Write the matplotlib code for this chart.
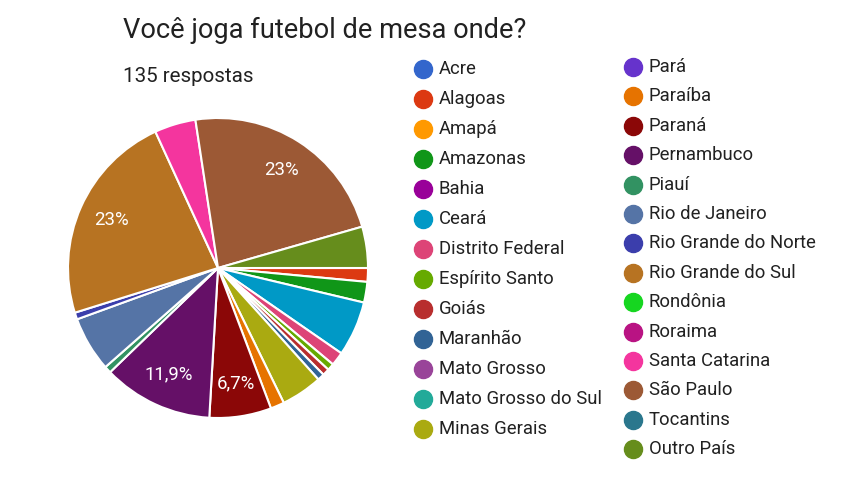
import matplotlib
matplotlib.use("Agg")
import matplotlib.pyplot as plt
import numpy as np

plt.rcParams['font.family'] = ['Roboto', 'DejaVu Sans']

# respostas por estado (135 no total)
states = ["Acre", "Alagoas", "Amapá", "Amazonas", "Bahia", "Ceará",
          "Distrito Federal", "Espírito Santo", "Goiás", "Maranhão",
          "Mato Grosso", "Mato Grosso do Sul", "Minas Gerais",
          "Pará", "Paraíba", "Paraná", "Pernambuco", "Piauí",
          "Rio de Janeiro", "Rio Grande do Norte", "Rio Grande do Sul",
          "Rondônia", "Roraima", "Santa Catarina", "São Paulo",
          "Tocantins", "Outro País"]
counts = [0, 2, 0, 3, 0, 8,
          2, 1, 1, 1,
          0, 0, 6,
          0, 2, 9, 16, 1,
          8, 1, 31,
          0, 0, 6, 31,
          0, 6]
colors = ["#3366cc", "#dc3912", "#ff9900", "#109618", "#990099", "#0099c6",
          "#dd4477", "#66aa00", "#b82e2e", "#316395",
          "#994499", "#22aa99", "#aaaa11",
          "#6633cc", "#e67300", "#8b0707", "#651067", "#329262",
          "#5574a6", "#3b3eac", "#b77322",
          "#16d620", "#b91383", "#f4359e", "#9c5935",
          "#2a778d", "#668d1c"]

title = "Você joga futebol de mesa onde?"
subtitle = "135 respostas"

W, H = 860, 480
fig = plt.figure(figsize=(W / 100, H / 100), dpi=100)
fig.patch.set_facecolor("white")

# pie
cx, cy, r = 218, 268, 150
ax = fig.add_axes([(cx - r) / W, (H - cy - r) / H, 2 * r / W, 2 * r / H])
vals = np.array(counts, dtype=float)
mask = vals > 0
total = vals.sum()
wedges, _ = ax.pie(vals[mask], colors=np.array(colors)[mask], startangle=0,
                   counterclock=False, radius=1.0,
                   wedgeprops=dict(edgecolor="white", linewidth=1.5))
for w, v in zip(wedges, vals[mask]):
    pct = v / total * 100
    if pct < 6:
        continue
    s = f"{pct:.1f}"
    if s.endswith(".0"):
        s = s[:-2]
    s = s.replace(".", ",") + "%"
    ang = np.deg2rad((w.theta1 + w.theta2) / 2)
    ax.text(0.78 * np.cos(ang), 0.78 * np.sin(ang), s, color="white",
            fontsize=13.4, ha="center", va="center")
ax.set_xlim(-1, 1)
ax.set_ylim(-1, 1)
ax.set_aspect("equal")
ax.axis("off")

# texts and legend in pixel coords
lay = fig.add_axes([0, 0, 1, 1])
lay.set_xlim(0, W)
lay.set_ylim(H, 0)
lay.axis("off")
lay.text(123, 30, title, fontsize=19.6, color="#212121", va="center", ha="left")
lay.text(123, 76, subtitle, fontsize=14.8, color="#212121", va="center", ha="left")

n1 = 13
for i, (name, c) in enumerate(zip(states, colors)):
    if i < n1:
        x, y = 423, 69 + i * 30
    else:
        x, y = 633, 67 + (i - n1) * 29.4
    lay.plot(x, y, "o", ms=13, color=c, mec=c)
    lay.text(x + 16, y, name, fontsize=13.3, color="#212121", va="center", ha="left")

fig.savefig("out.png", dpi=100, facecolor="white")
